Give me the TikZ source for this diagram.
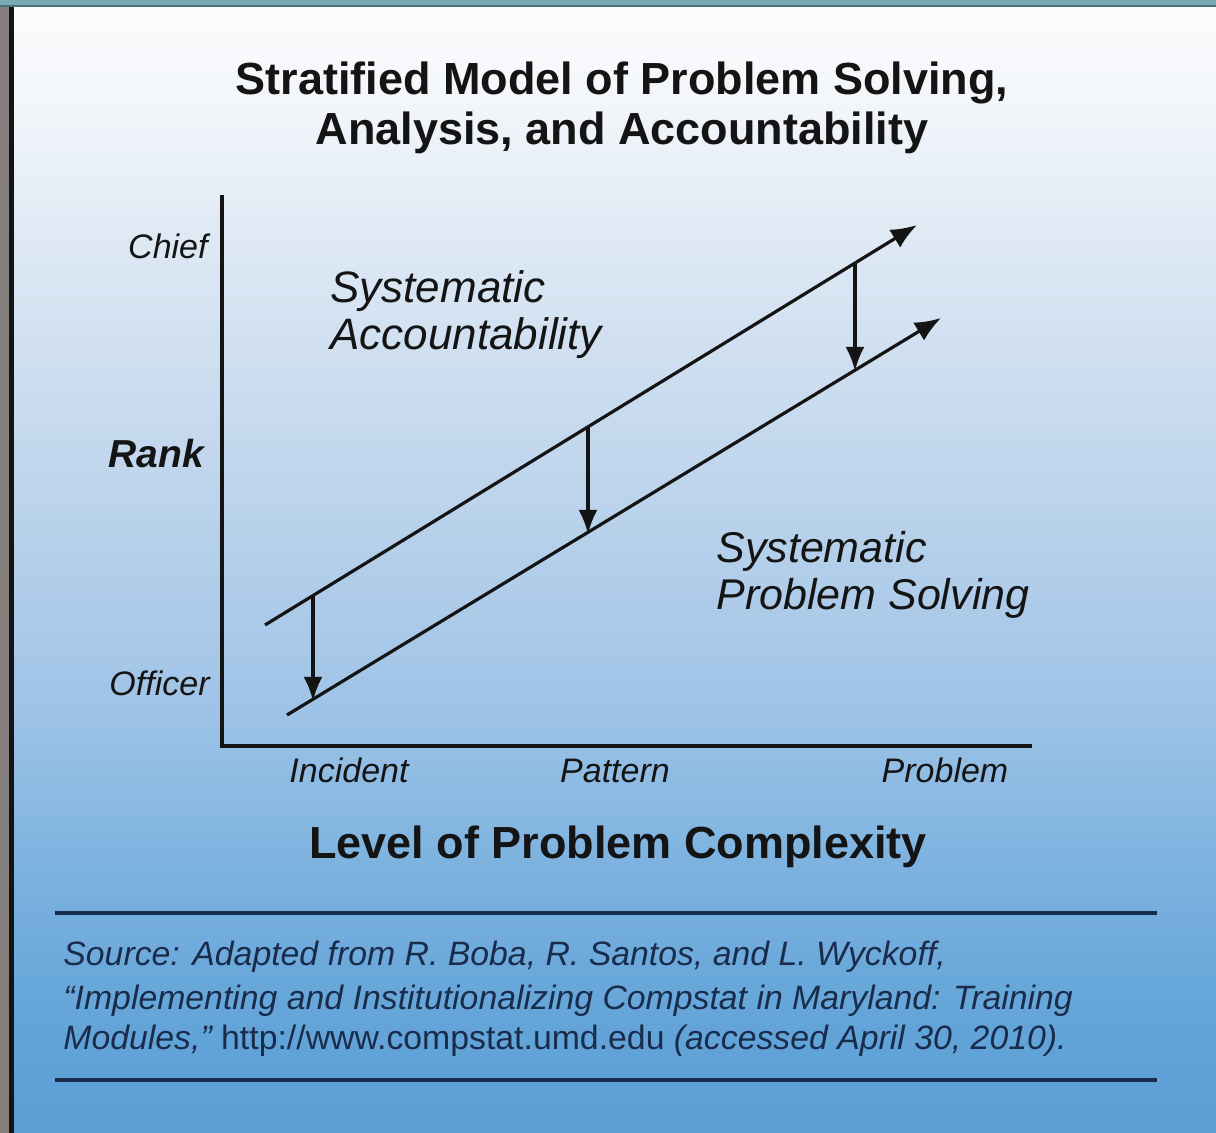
\documentclass[tikz,border=0pt]{standalone}
\usepackage{fontspec}
\setmainfont{Liberation Sans}
\usetikzlibrary{arrows.meta}
\definecolor{bgA}{HTML}{5A9ED4}
\definecolor{bgB}{HTML}{66A6D9}
\definecolor{bgC}{HTML}{80B4E0}
\definecolor{bgD}{HTML}{A0C4E7}
\definecolor{bgE}{HTML}{C2D7ED}
\definecolor{bgF}{HTML}{DDE8F4}
\definecolor{bgG}{HTML}{F3F6FA}
\definecolor{bgH}{HTML}{FBFCFD}
\definecolor{tealband}{HTML}{7AAAB5}
\definecolor{tealline}{HTML}{4D6F7A}
\definecolor{greyband}{HTML}{857F7D}
\definecolor{navy}{HTML}{1A2C4C}
\definecolor{ink}{HTML}{141414}
\pgfdeclareverticalshading{bgshade}{100bp}{color(0bp)=(bgA); color(25bp)=(bgA); color(30.9bp)=(bgB); color(37.6bp)=(bgC); color(44.2bp)=(bgD); color(55.1bp)=(bgE); color(64.2bp)=(bgF); color(70.8bp)=(bgG); color(75bp)=(bgH); color(100bp)=(bgH)}
\tikzset{
  lab/.style={inner sep=0pt, text=ink},
  tick/.style={lab, font=\fontsize{17}{20}\selectfont\itshape},
  region/.style={lab, align=left, font=\fontsize{21.5}{23.5}\selectfont\itshape},
  heading/.style={lab, font=\fontsize{22.5}{25}\selectfont\bfseries},
  src/.style={inner sep=0pt, text=navy, anchor=base west, font=\fontsize{16.9}{20}\selectfont\itshape},
  stratum/.style={line width=1.6pt, draw=ink, -{Latex[length=13pt,width=10.5pt]}},
  drop/.style={line width=1.6pt, draw=ink, -{Latex[length=12pt,width=9.5pt]}},
  axis/.style={line width=1.6pt, draw=ink},
  rule/.style={line width=2pt, draw=navy}
}
\begin{document}
\begin{tikzpicture}[x={(0.5pt,0)}, y={(0,-0.5pt)}]
\useasboundingbox (0,0) rectangle (1216,1133);
% frame and background
\shade[shading=bgshade] (14,6) rectangle (1216,1133);
\fill[tealband] (0,0) rectangle (1216,5);
\fill[tealline] (0,5) rectangle (1216,7);
\fill[greyband] (0,7) rectangle (9,1133);
\fill[ink] (9,7) rectangle (14,1133);
% title
\node[heading, align=center] (title) at (622,108) {Stratified Model of Problem Solving,\\Analysis, and Accountability};
% axes
\coordinate (ytop) at (222,195);
\coordinate (orig) at (222,746);
\coordinate (xend) at (1032,746);
\draw[axis] (ytop) -- (orig) -- (xend);
% rank labels
\node[tick, anchor=base east] (chief) at (208,259) {Chief};
\node[lab, anchor=base west, font=\fontsize{19.5}{22}\selectfont\bfseries\itshape] (rank) at (108,468) {Rank};
\node[tick, anchor=base east] (officer) at (210,696) {Officer};
% complexity labels
\node[tick, anchor=base] (incident) at (349,783) {Incident};
\node[tick, anchor=base] (pattern) at (615,783) {Pattern};
\node[tick, anchor=base] (problem) at (945,783) {Problem};
\node[heading, anchor=base] (xlabel) at (618,858) {Level of Problem Complexity};
% region labels (base = last line)
\node[region, anchor=base west, font=\fontsize{22}{23.5}\selectfont\itshape] (acc) at (330,350) {Systematic\\Accountability};
\node[region, anchor=base west] (ps) at (716,610) {Systematic\\Problem Solving};
% strata lines
\coordinate (u0) at (265,625);
\coordinate (u1) at (917,225);
\coordinate (l0) at (287,715);
\coordinate (l1) at (941,318);
\draw[stratum] (u0) -- (u1);
\draw[stratum] (l0) -- (l1);
% drops
\coordinate (a1) at (313,595.5);
\coordinate (b1) at (313,701);
\coordinate (a2) at (588,426.8);
\coordinate (b2) at (588,534);
\coordinate (a3) at (855,263);
\coordinate (b3) at (855,371);
\draw[drop] (a1) -- (b1);
\draw[drop] (a2) -- (b2);
\draw[drop] (a3) -- (b3);
% source block
\coordinate (r1a) at (55,913);
\coordinate (r1b) at (1157,913);
\coordinate (r2a) at (55,1080);
\coordinate (r2b) at (1157,1080);
\draw[rule] (r1a) -- (r1b);
\draw[rule] (r2a) -- (r2b);
\node[src] (s1) at (63,965) {Source: Adapted from R. Boba, R. Santos, and L. Wyckoff,};
\node[src] (s2) at (63,1009) {“Implementing and Institutionalizing Compstat in Maryland: Training};
\node[src] (s3) at (63,1049) {Modules,” \upshape http://www.compstat.umd.edu \itshape (accessed April 30, 2010).};
\end{tikzpicture}
\end{document}
